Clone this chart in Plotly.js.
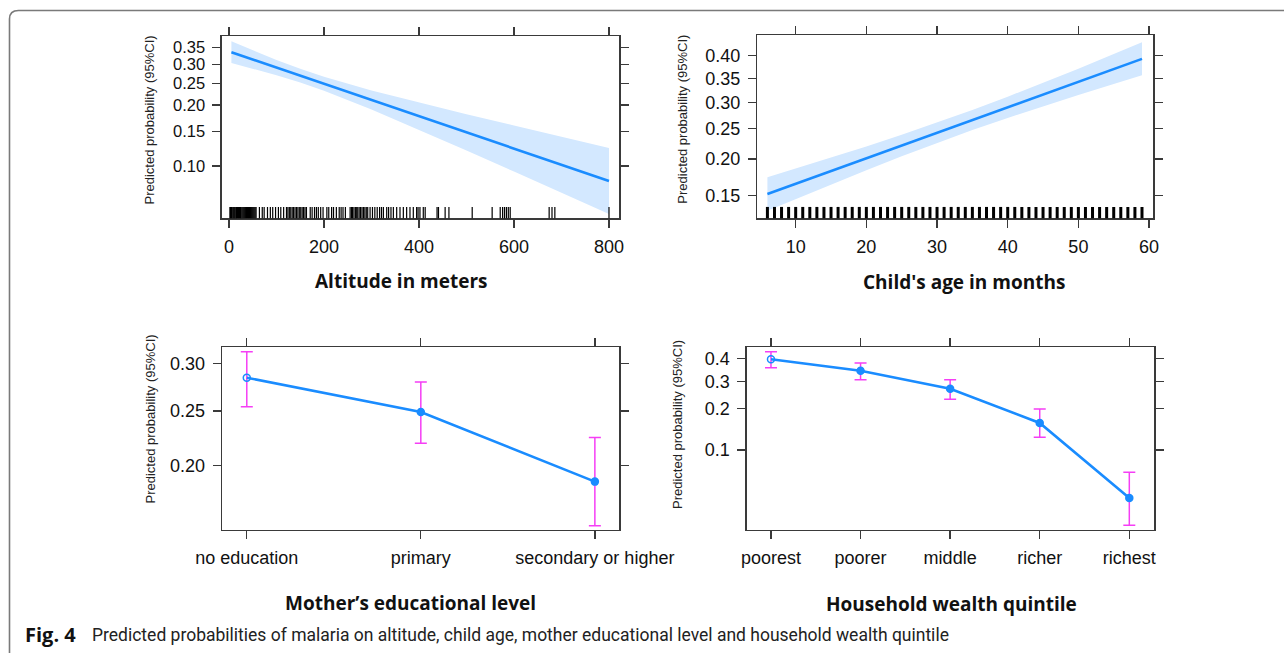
<!DOCTYPE html>
<html><head><meta charset="utf-8">
<script src="https://cdn.plot.ly/plotly-3.0.1.min.js"></script>
<style>html,body{margin:0;padding:0;background:#fff;}#chart{width:1284px;height:653px;}</style>
</head><body><div id="chart"></div>
<script>
// ---------- Data (predicted probabilities) ----------
// Panel 1: altitude
const altX   = [5, 50, 100, 150, 200, 300, 400, 500, 600, 700, 800];
const altFit = [0.3351, 0.3139, 0.2912, 0.2695, 0.2488, 0.2108, 0.1772, 0.1480, 0.1228, 0.1014, 0.0834];
const altLo  = [0.3039, 0.2884, 0.2707, 0.2520, 0.2320, 0.1906, 0.1524, 0.1200, 0.0935, 0.0722, 0.0555];
const altHi  = [0.3680, 0.3406, 0.3127, 0.2878, 0.2665, 0.2326, 0.2050, 0.1811, 0.1598, 0.1407, 0.1236];
const altRug = [2,3,5,6,8,10,11,13,15,16,18,20,22,24,25,27,29,31,33,35,37,39,41,43,45,47,49,51,53,55,57,
  64,70,74,81,87,92,98,104,109,115,121,124,127,130,133,136,139,142,145,148,151,154,157,160,163,
  171,175,180,184,188,193,198,206,210,216,220,226,232,236,240,245,
  255,258,260,263,266,268,271,274,277,280,283,286,289,292,297,302,307,312,317,321,325,
  332,336,341,346,353,360,367,374,381,388,395,398,402,409,413,438,441,455,463,512,554,
  571,576,580,584,588,592,674,680,686,800];
const altXTicks = [0, 200, 400, 600, 800];
const altYTicks = [0.10, 0.15, 0.20, 0.25, 0.30, 0.35];

// Panel 2: child's age
const ageX   = [6, 10, 15, 20, 25, 30, 35, 40, 45, 50, 55, 59];
const ageFit = [0.1520, 0.1649, 0.1823, 0.2010, 0.2213, 0.2429, 0.2658, 0.2901, 0.3156, 0.3423, 0.3703, 0.3930];
const ageLo  = [0.1325, 0.1459, 0.1640, 0.1835, 0.2042, 0.2256, 0.2477, 0.2697, 0.2921, 0.3148, 0.3378, 0.3566];
const ageHi  = [0.1738, 0.1859, 0.2021, 0.2198, 0.2394, 0.2610, 0.2847, 0.3113, 0.3400, 0.3710, 0.4040, 0.4310];
const ageRug = [6,7,8,9,10,11,12,13,14,15,16,17,18,19,20,21,22,23,24,25,26,27,28,29,30,31,32,
  33,34,35,36,37,38,39,40,41,42,43,44,45,46,47,48,49,50,51,52,53,54,55,56,57,58,59];
const ageXTicks = [10, 20, 30, 40, 50, 60];
const ageYTicks = [0.15, 0.20, 0.25, 0.30, 0.35, 0.40];

// Panel 3: mother's education
const eduCats = ['no education', 'primary', 'secondary or higher'];
const eduFit  = [0.2843, 0.2491, 0.1869];
const eduLo   = [0.2543, 0.2195, 0.1542];
const eduHi   = [0.3130, 0.2797, 0.2249];
const eduYTicks = [0.20, 0.25, 0.30];

// Panel 4: wealth quintile
const wealthCats = ['poorest', 'poorer', 'middle', 'richer', 'richest'];
const wealthFit  = [0.3970, 0.3450, 0.2701, 0.1588, 0.0415];
const wealthLo   = [0.3585, 0.3063, 0.2315, 0.1248, 0.0247];
const wealthHi   = [0.4334, 0.3800, 0.3063, 0.1990, 0.0670];
const wealthYTicks = [0.1, 0.2, 0.3, 0.4];

// ---------- helpers ----------
const logit = p => Math.log(p / (1 - p));
const W = 1284, H = 653;
const px = x => x / W;
const py = y => 1 - y / H;

const BLUE = '#1a8cff';
const BAND = '#d3e8ff';
const PINK = '#f53ef5';
const AXC = '#3a3a3a';
const FAM = 'Liberation Sans, Arial, sans-serif';
const TICKFONT = {family: FAM, size: 18, color: '#111'};

function band(x, lo, hi, xa, ya) {
  return [
    {x: x, y: lo.map(logit), mode: 'lines', line: {width: 0, color: BAND}, xaxis: xa, yaxis: ya, hoverinfo: 'skip', showlegend: false},
    {x: x, y: hi.map(logit), mode: 'lines', line: {width: 0, color: BAND}, fill: 'tonexty', fillcolor: BAND, xaxis: xa, yaxis: ya, hoverinfo: 'skip', showlegend: false}
  ];
}
function errTrace(cats, fit, lo, hi, xa, ya) {
  const f = fit.map(logit);
  return {
    x: cats, y: f, mode: 'lines+markers', xaxis: xa, yaxis: ya, showlegend: false,
    line: {color: BLUE, width: 2.6},
    marker: {color: BLUE, size: 7, symbol: cats.map((c, i) => i === 0 ? 'circle-open' : 'circle'), line: {color: BLUE, width: 1.5}},
    error_y: {type: 'data', symmetric: false,
      array: hi.map((v, i) => logit(v) - f[i]),
      arrayminus: lo.map((v, i) => f[i] - logit(v)),
      color: PINK, thickness: 1.5, width: 6}
  };
}

const traces = [
  ...band(altX, altLo, altHi, 'x', 'y'),
  {x: altX, y: altFit.map(logit), mode: 'lines', line: {color: BLUE, width: 2.6}, xaxis: 'x', yaxis: 'y', showlegend: false},
  ...band(ageX, ageLo, ageHi, 'x2', 'y2'),
  {x: ageX, y: ageFit.map(logit), mode: 'lines', line: {color: BLUE, width: 2.6}, xaxis: 'x2', yaxis: 'y2', showlegend: false},
  errTrace(eduCats, eduFit, eduLo, eduHi, 'x3', 'y3'),
  errTrace(wealthCats, wealthFit, wealthLo, wealthHi, 'x4', 'y4')
];

function axBase(extra) {
  return Object.assign({
    showline: true, linecolor: AXC, linewidth: 1.3, mirror: 'ticks',
    ticks: 'outside', ticklen: 8, tickwidth: 1.3, tickcolor: AXC,
    showgrid: false, zeroline: false, tickfont: TICKFONT, fixedrange: true
  }, extra);
}
const yTicks = (arr, dec) => ({tickmode: 'array', tickvals: arr.map(logit), ticktext: arr.map(v => v.toFixed(dec))});

const shapes = [];
altRug.forEach(v => shapes.push({type: 'line', xref: 'x', yref: 'y domain', x0: v, x1: v, y0: 0, y1: 0.062, line: {color: '#000', width: 1.2}, layer: 'above'}));
ageRug.forEach(v => shapes.push({type: 'line', xref: 'x2', yref: 'y2 domain', x0: v, x1: v, y0: 0, y1: 0.062, line: {color: '#000', width: 3}, layer: 'above'}));
// rounded figure frame
shapes.push({type: 'path', xref: 'paper', yref: 'paper',
  path: `M ${px(9.5)},0 L ${px(9.5)},${py(19)} Q ${px(9.5)},${py(10.5)} ${px(18.5)},${py(10.5)} L 1,${py(10.5)}`,
  line: {color: '#7a7a7a', width: 1.6}});

const YT = {family: FAM, size: 13, color: '#222'};
const XT = {family: 'Open Sans, sans-serif', size: 19, color: '#111'};
const ann = (text, x, y, font, extra) => Object.assign({text, x: px(x), y: py(y), xref: 'paper', yref: 'paper', showarrow: false, font, xanchor: 'center', yanchor: 'middle'}, extra || {});

const annotations = [
  ann('Predicted probability (95%CI)', 148.5, 120, YT, {textangle: -90}),
  ann('Predicted probability (95%CI)', 681.7, 119, YT, {textangle: -90}),
  ann('Predicted probability (95%CI)', 149.5, 419, YT, {textangle: -90}),
  ann('Predicted probability (95%CI)', 677, 425, YT, {textangle: -90}),
  ann('<b>Altitude in meters</b>', 401, 281, XT),
  ann("<b>Child's age in months</b>", 964, 282, XT),
  ann('<b>Mother’s educational level</b>', 410, 603, XT),
  ann('<b>Household wealth quintile</b>', 951, 604, XT),
  ann('<b>Fig. 4</b>', 22.7, 634, {family: 'Open Sans, sans-serif', size: 20, color: '#111'}, {xanchor: 'left'}),
  ann('Predicted probabilities of malaria on altitude, child age, mother educational level and household wealth quintile', 90, 635, {family: 'Roboto, sans-serif', size: 17.5, color: '#222'}, {xanchor: 'left'})
];

const layout = {
  width: W, height: H, margin: {l: 0, r: 0, t: 0, b: 0},
  paper_bgcolor: '#fff', plot_bgcolor: '#fff', showlegend: false,
  xaxis:  axBase({domain: [px(221.7), px(619.3)], range: [-15.4, 821.7], tickmode: 'array', tickvals: altXTicks, anchor: 'y', ticklabelstandoff: 4}),
  yaxis:  axBase(Object.assign({domain: [py(218.3), py(36)], range: [-2.893, -0.47], anchor: 'x', ticklabelstandoff: 4, tickfont: {family: FAM, size: 16.5, color: '#111'}}, yTicks(altYTicks, 2))),
  xaxis2: axBase({domain: [px(757.3), px(1153.3)], range: [4.57, 60.6], tickmode: 'array', tickvals: ageXTicks, anchor: 'y2', ticklabelstandoff: 4}),
  yaxis2: axBase(Object.assign({domain: [py(218.3), py(35)], range: [-1.95, -0.208], anchor: 'x2', ticklabelstandoff: 4}, yTicks(ageYTicks, 2))),
  xaxis3: axBase({domain: [px(221.9), px(619.4)], type: 'category', categoryarray: eduCats, range: [-0.143, 2.141], anchor: 'y3', ticklabelstandoff: 3}),
  yaxis3: axBase(Object.assign({domain: [py(530), py(347.3)], range: [-1.725, -0.763], anchor: 'x3', ticklabelstandoff: 4}, yTicks(eduYTicks, 2))),
  xaxis4: axBase({domain: [px(746.7), px(1154.3)], type: 'category', categoryarray: wealthCats, range: [-0.271, 4.279], anchor: 'y4', ticklabelstandoff: 3}),
  yaxis4: axBase(Object.assign({domain: [py(530), py(347.3)], range: [-3.767, -0.182], anchor: 'x4', ticklabelstandoff: 4}, yTicks(wealthYTicks, 1))),
  shapes, annotations
};

Plotly.newPlot('chart', traces, layout, {staticPlot: true, displayModeBar: false});
</script>
</body></html>
